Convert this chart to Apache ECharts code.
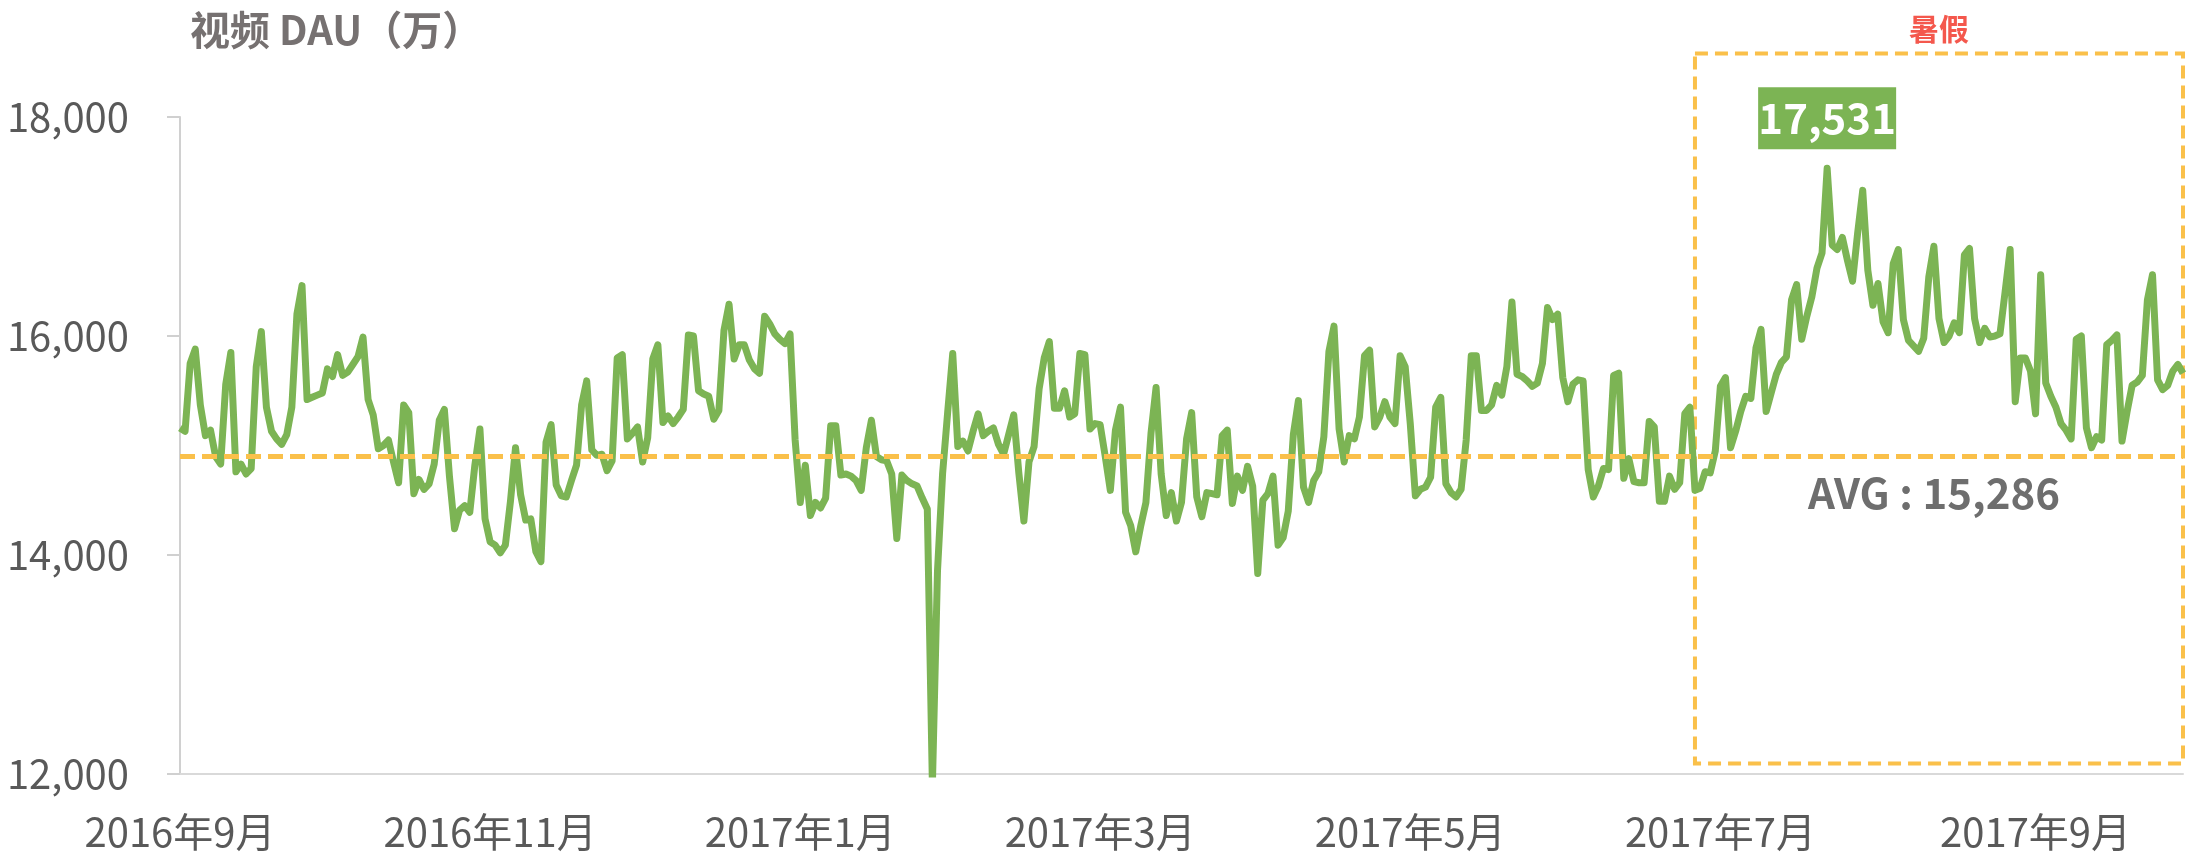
<!DOCTYPE html>
<html>
<head>
<meta charset="utf-8">
<title>视频 DAU</title>
<script src="https://cdn.jsdelivr.net/npm/echarts@6/dist/echarts.min.js"></script>
<style>
  html, body { margin: 0; padding: 0; background: #fff; }
  #chart { width: 2201px; height: 854px; }
</style>
</head>
<body>
<div id="chart"></div>
<script>
// daily video DAU (万), 2016-09-01 .. 2017-09-30
const startDay = [2016, 8, 1];
const dauValues = [
  15160, 15130, 15750, 15880, 15370, 15090, 15140, 14900, 14830, 15560,
  15850, 14760, 14830, 14740, 14790, 15720, 16040, 15350, 15130, 15060,
  15010, 15100, 15350, 16200, 16460, 15420, 15440, 15460, 15480, 15700,
  15630, 15830, 15640, 15670, 15740, 15810, 15990, 15420, 15280, 14970,
  15000, 15050, 14850, 14660, 15370, 15300, 14560, 14690, 14600, 14650,
  14830, 15230, 15330, 14720, 14240, 14410, 14450, 14390, 14820, 15150,
  14330, 14120, 14090, 14020, 14090, 14490, 14980, 14550, 14320, 14330,
  14030, 13940, 15030, 15190, 14640, 14540, 14530, 14680, 14820, 15370,
  15590, 14960, 14910, 14920, 14770, 14860, 15800, 15830, 15060, 15110,
  15170, 14850, 15070, 15790, 15920, 15210, 15270, 15200, 15260, 15330,
  16010, 16000, 15500, 15470, 15450, 15240, 15320, 16050, 16290, 15790,
  15920, 15920, 15780, 15700, 15660, 16180, 16110, 16020, 15970, 15930,
  16020, 15050, 14480, 14820, 14360, 14480, 14430, 14520, 15180, 15180,
  14730, 14740, 14720, 14680, 14590, 14980, 15230, 14900, 14870, 14860,
  14740, 14150, 14730, 14680, 14650, 14630, 14520, 14420, 11900, 13850,
  14740, 15300, 15840, 14990, 15040, 14950, 15130, 15290, 15090, 15130,
  15160, 15010, 14920, 15100, 15280, 14750, 14310, 14850, 14990, 15520,
  15800, 15950, 15340, 15340, 15500, 15260, 15290, 15840, 15830, 15150,
  15200, 15190, 14900, 14590, 15140, 15350, 14390, 14270, 14030, 14270,
  14480, 15110, 15530, 14740, 14360, 14570, 14310, 14480, 15060, 15300,
  14530, 14350, 14570, 14560, 14550, 15090, 15140, 14470, 14720, 14590,
  14810, 14630, 13830, 14500, 14560, 14720, 14090, 14160, 14400, 15100,
  15410, 14620, 14480, 14680, 14760, 15080, 15860, 16090, 15150, 14850,
  15090, 15060, 15260, 15820, 15870, 15170, 15260, 15400, 15260, 15200,
  15820, 15720, 15200, 14540, 14600, 14620, 14710, 15350, 15440, 14650,
  14570, 14530, 14600, 15050, 15820, 15820, 15320, 15320, 15370, 15550,
  15460, 15720, 16310, 15650, 15630, 15590, 15540, 15570, 15750, 16260,
  16150, 16200, 15620, 15400, 15560, 15600, 15590, 14780, 14530, 14630,
  14790, 14780, 15640, 15660, 14700, 14880, 14670, 14660, 14660, 15220,
  15170, 14490, 14490, 14720, 14600, 14660, 15290, 15350, 14590, 14610,
  14760, 14750, 14950, 15540, 15620, 14980, 15130, 15310, 15450, 15430,
  15890, 16060, 15310, 15480, 15650, 15760, 15810, 16330, 16470, 15970,
  16180, 16360, 16620, 16760, 17531, 16830, 16790, 16900, 16690, 16500,
  16940, 17330, 16600, 16280, 16480, 16130, 16030, 16660, 16790, 16150,
  15960, 15910, 15860, 15980, 16540, 16820, 16160, 15940, 16000, 16120,
  16030, 16740, 16800, 16160, 15940, 16070, 15990, 16000, 16020, 16400,
  16790, 15400, 15800, 15800, 15680, 15290, 16560, 15570, 15450, 15350,
  15200, 15140, 15060, 15970, 16000, 15160, 14980, 15080, 15050, 15920,
  15960, 16010, 15040, 15310, 15550, 15580, 15640, 16330, 16560, 15600,
  15510, 15550, 15680, 15740, 15660
];

const tickDates = ['2016-09-01', '2016-11-01', '2017-01-01', '2017-03-01', '2017-05-01', '2017-07-01', '2017-09-01'];
const tickLabels = ['2016年9月', '2016年11月', '2017年1月', '2017年3月', '2017年5月', '2017年7月', '2017年9月'];
const yTicks = [12000, 14000, 16000, 18000];

const avgLineValue = 14905;        // where the dashed line sits in the picture
const avgText = 'AVG : 15,286';    // what its label says
const summerRange = ['2017-06-26', '2017-09-30'];
const summerBand = [12096, 18580];
const summerText = '暑假';

const dates = dauValues.map((v, i) =>
  new Date(Date.UTC(startDay[0], startDay[1], startDay[2] + i)).toISOString().slice(0, 10));

const green = '#7cb454';
const orange = '#fac04a';
const fontFamily = '"Noto Sans CJK SC", "Noto Sans", sans-serif';

const chart = echarts.init(document.getElementById('chart'));
chart.setOption({
  animation: false,
  textStyle: { fontFamily: fontFamily },
  title: {
    text: '视频 DAU（万）',
    left: 190,
    top: 10,
    padding: 0,
    textStyle: { fontSize: 40, fontWeight: 'bold', color: '#767171', fontFamily: fontFamily }
  },
  grid: { left: 180, right: 18, top: 117, bottom: 80, containLabel: false, outerBoundsMode: 'none' },
  xAxis: {
    type: 'category',
    data: dates,
    boundaryGap: false,
    axisLine: { lineStyle: { color: '#d9d9d9', width: 2 } },
    axisTick: { show: false },
    axisLabel: {
      interval: (idx, value) => tickDates.indexOf(value) >= 0,
      formatter: value => tickLabels[tickDates.indexOf(value)] || '',
      margin: 38,
      fontSize: 40,
      color: '#595959'
    },
    splitLine: { show: false }
  },
  yAxis: {
    type: 'value',
    min: yTicks[0],
    max: yTicks[yTicks.length - 1],
    interval: yTicks[1] - yTicks[0],
    axisLine: { show: true, lineStyle: { color: '#d0d0d0', width: 2 } },
    axisTick: { show: true, length: 13, lineStyle: { color: '#d0d0d0', width: 2 } },
    axisLabel: {
      margin: 51,
      fontSize: 40,
      color: '#595959',
      formatter: v => v.toLocaleString('en-US')
    },
    splitLine: { show: false }
  },
  series: [
    {
      // dashed frame around the summer holiday
      type: 'custom',
      silent: true,
      z: 1,
      data: [[dates.indexOf(summerRange[0]), dates.indexOf(summerRange[1]), summerBand[0], summerBand[1]]],
      encode: { x: [0, 1], y: [2, 3] },
      renderItem: (params, api) => {
        const tl = api.coord([api.value(0), api.value(3)]);
        const br = api.coord([api.value(1), api.value(2)]);
        return {
          type: 'group',
          children: [
            {
              type: 'rect',
              shape: { x: tl[0], y: tl[1], width: br[0] - tl[0], height: br[1] - tl[1] },
              style: { fill: null, stroke: orange, lineWidth: 4, lineDash: [13, 7] }
            },
            {
              type: 'text',
              style: {
                x: (tl[0] + br[0]) / 2,
                y: tl[1] - 10,
                text: summerText,
                fill: '#f4584d',
                font: 'bold 30px ' + fontFamily,
                align: 'center',
                verticalAlign: 'bottom'
              }
            }
          ]
        };
      }
    },
    {
      name: '视频 DAU',
      type: 'line',
      z: 2,
      data: dauValues,
      showSymbol: false,
      symbol: 'none',
      lineStyle: { color: green, width: 7, join: 'round' },
      itemStyle: { color: green },
      markPoint: {
        silent: true,
        symbol: 'rect',
        symbolSize: [138, 62],
        symbolOffset: [0, -50],
        itemStyle: { color: green },
        label: {
          show: true,
          position: 'inside',
          color: '#fff',
          fontSize: 42,
          fontWeight: 'bold',
          formatter: p => Number(p.value).toLocaleString('en-US')
        },
        data: [{ type: 'max' }]
      },
      markLine: {
        silent: true,
        symbol: ['none', 'none'],
        lineStyle: { color: orange, width: 5, type: [15, 7] },
        label: {
          show: true,
          position: 'insideEndBottom',
          distance: [123, 16],
          formatter: avgText,
          color: '#6e6e6e',
          fontSize: 42,
          fontWeight: 'bold'
        },
        data: [{ yAxis: avgLineValue }]
      }
    }
  ]
});
</script>
</body>
</html>
